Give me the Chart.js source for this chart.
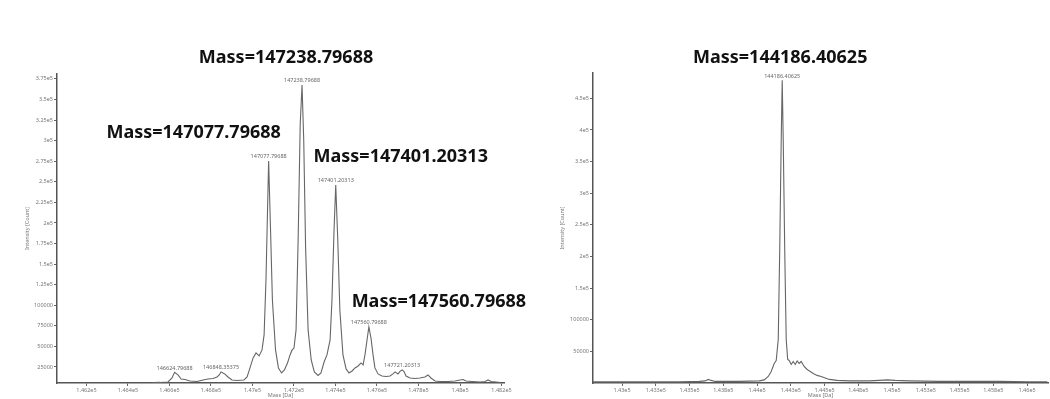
<!DOCTYPE html>
<html>
<head>
<meta charset="utf-8">
<script src="https://cdn.jsdelivr.net/npm/chart.js@4/dist/chart.umd.min.js"></script>
<style>
  html, body { margin: 0; padding: 0; background: #fff; }
  body { width: 1050px; height: 399px; position: relative; overflow: hidden; }
  .panel { position: absolute; top: 0; height: 399px; }
  #leftPanel { left: 0; width: 545px; }
  #rightPanel { left: 545px; width: 505px; }
</style>
</head>
<body>
<div class="panel" id="leftPanel"><canvas id="leftChart"></canvas></div>
<div class="panel" id="rightPanel"><canvas id="rightChart"></canvas></div>
<script>
// ---- Deconvoluted spectrum, sample A (mass in Da, intensity in counts) ----
const leftMass = [
  146520, 146554, 146593, 146612, 146624.79688, 146641, 146656, 146675, 146699, 146733,
  146762, 146786, 146810, 146829, 146840, 146848.35375, 146866, 146882, 146901, 146925,
  146959, 146974, 146988, 147003, 147017, 147032, 147046, 147056, 147065, 147077.79688,
  147087, 147096, 147111, 147125, 147140, 147154, 147169, 147181, 147191, 147200,
  147210, 147220, 147230, 147238.79688, 147247, 147256, 147268, 147283, 147298, 147316,
  147330, 147345, 147359, 147374, 147383, 147393, 147401.20313, 147411, 147421, 147436,
  147451, 147465, 147480, 147494, 147509, 147523, 147533, 147542, 147552, 147560.79688,
  147571, 147581, 147590, 147605, 147624, 147644, 147663, 147677, 147687, 147701,
  147712, 147721.20313, 147730, 147740, 147759, 147783, 147807, 147831, 147846, 147860,
  147880, 147904, 147942, 147976, 148000, 148015, 148029, 148058, 148097, 148121,
  148135, 148150, 148174, 148193
];
const leftIntensity = [
  6000, 6200, 6800, 11600, 18500, 15300, 10400, 9800, 8000, 7400,
  9200, 10400, 11000, 12800, 15300, 19000, 16500, 12800, 9200, 8600,
  9200, 12800, 23800, 36000, 42000, 38400, 45700, 63900, 130700, 275300,
  191500, 106400, 45700, 23800, 17700, 21400, 30000, 39600, 45700, 48000,
  70000, 180000, 320000, 367600, 300000, 170000, 70000, 33500, 18900, 14700,
  17700, 31000, 39600, 57800, 106400, 191500, 246100, 179300, 94200, 39600,
  22600, 17700, 20100, 23800, 26200, 29900, 27400, 39600, 57800, 73600,
  60200, 39600, 23800, 16500, 14000, 13400, 14000, 16500, 19000, 16500,
  20000, 21400, 19500, 14000, 11600, 11000, 11600, 12800, 15300, 11600,
  8000, 7400, 7400, 8000, 9200, 9800, 8000, 7400, 6800, 7400,
  9200, 7400, 6800, 6200
];
const leftPeaks = [146624.79688, 146848.35375, 147077.79688, 147238.79688, 147401.20313, 147560.79688, 147721.20313];
const leftXTicks = [146200, 146400, 146600, 146800, 147000, 147200, 147400, 147600, 147800, 148000, 148200];
const leftXTickLabels = ['1.462e5', '1.464e5', '1.466e5', '1.468e5', '1.47e5', '1.472e5', '1.474e5', '1.476e5', '1.478e5', '1.48e5', '1.482e5'];
const leftYTicks = [25000, 50000, 75000, 100000, 125000, 150000, 175000, 200000, 225000, 250000, 275000, 300000, 325000, 350000, 375000];
const leftYTickLabels = ['25000', '50000', '75000', '100000', '1.25e5', '1.5e5', '1.75e5', '2e5', '2.25e5', '2.5e5', '2.75e5', '3e5', '3.25e5', '3.5e5', '3.75e5'];

// ---- Deconvoluted spectrum, sample B ----
const rightMass = [
  142785, 142979, 143423, 143572, 143616, 143638, 143660, 143690, 143868, 144016,
  144053, 144083, 144105, 144127, 144142, 144157, 144168, 144179, 144186.40625, 144194,
  144205, 144216, 144227, 144238, 144253, 144268, 144283, 144297, 144312, 144327,
  144349, 144371, 144394, 144416, 144445, 144475, 144505, 144535, 144594, 144683,
  144831, 144905, 144964, 145023, 145127, 145349, 145571, 145794, 146016, 146150
];
const rightIntensity = [
  1700, 1700, 1700, 2500, 3300, 5700, 4100, 2500, 2500, 3300,
  4900, 10400, 18300, 30900, 35600, 68700, 210500, 383800, 478500, 383800,
  210500, 68700, 37200, 35600, 29300, 34000, 29300, 34800, 30900, 34000,
  26100, 21400, 18300, 15100, 12000, 10400, 8000, 5700, 4100, 3300,
  3300, 4100, 4900, 4100, 3300, 2500, 2500, 2500, 2000, 2000
];
const rightPeaks = [144186.40625];
const rightXTicks = [143000, 143250, 143500, 143750, 144000, 144250, 144500, 144750, 145000, 145250, 145500, 145750, 146000];
const rightXTickLabels = ['1.43e5', '1.433e5', '1.435e5', '1.438e5', '1.44e5', '1.443e5', '1.445e5', '1.448e5', '1.45e5', '1.453e5', '1.455e5', '1.458e5', '1.46e5'];
const rightYTicks = [50000, 100000, 150000, 200000, 250000, 300000, 350000, 400000, 450000];
const rightYTickLabels = ['50000', '100000', '1.5e5', '2e5', '2.5e5', '3e5', '3.5e5', '4e5', '4.5e5'];

// Small peak labels just above each apex, plus the large "Mass=" callouts.
const peakLabelPlugin = {
  id: 'peakLabels',
  afterDatasetsDraw(chart, args, opts) {
    const { ctx, scales: { x, y } } = chart;
    const ds = chart.data.datasets[0].data;
    const apex = (m) => ds.find(p => p.x === m);
    ctx.save();
    ctx.textAlign = 'center';
    ctx.textBaseline = 'bottom';
    ctx.fillStyle = '#666';
    ctx.font = '5.5px "Noto Sans", sans-serif';
    opts.peaks.forEach(m => {
      const p = apex(m);
      ctx.fillText(String(m), x.getPixelForValue(p.x), y.getPixelForValue(p.y) - 1.5);
    });
    ctx.fillStyle = '#111';
    ctx.textBaseline = 'middle';
    ctx.font = 'bold 18px "Noto Sans", sans-serif';
    opts.callouts.forEach(c => {
      const p = apex(c.mass);
      ctx.fillText('Mass=' + c.mass, x.getPixelForValue(p.x) + c.dx, y.getPixelForValue(p.y) + c.dy);
    });
    ctx.restore();
  }
};

function buildChart(id, mass, intensity, xRange, yRange, xTicks, xLabels, yTicks, yLabels, axisW, pad, titlePad, labelOpts) {
  const points = mass.map((m, i) => ({ x: m, y: intensity[i] }));
  const tickFont = { family: '"Noto Sans", sans-serif', size: 5.5 };
  return new Chart(document.getElementById(id), {
    type: 'line',
    data: { datasets: [{ data: points, borderColor: '#666', borderWidth: 1.1, pointRadius: 0, tension: 0, fill: false }] },
    options: {
      responsive: true, maintainAspectRatio: false, animation: false, devicePixelRatio: 1,
      layout: { padding: pad },
      plugins: { legend: { display: false }, tooltip: { enabled: false }, peakLabels: labelOpts },
      scales: {
        x: {
          type: 'linear', min: xRange[0], max: xRange[1],
          afterBuildTicks: (s) => { s.ticks = xTicks.map(v => ({ value: v })); },
          afterFit: (s) => { s.height = 16; },
          ticks: { autoSkip: false, maxRotation: 0, padding: 1, color: '#777', font: tickFont,
                   callback: (v) => xLabels[xTicks.indexOf(v)] },
          grid: { display: true, drawOnChartArea: false, tickLength: 3, tickColor: '#666' },
          border: { display: true, color: '#555', width: 1.5 },
          title: { display: true, text: 'Mass [Da]', color: '#777', font: tickFont, padding: { top: 0, bottom: 0 } }
        },
        y: {
          type: 'linear', min: yRange[0], max: yRange[1],
          afterBuildTicks: (s) => { s.ticks = yTicks.map(v => ({ value: v })); },
          afterFit: (s) => { s.width = axisW; },
          ticks: { autoSkip: false, padding: 1, color: '#777', font: tickFont,
                   callback: (v) => yLabels[yTicks.indexOf(v)] },
          grid: { display: true, drawOnChartArea: false, tickLength: 3, tickColor: '#666' },
          border: { display: true, color: '#555', width: 1.5 },
          title: { display: true, text: 'Intensity [Count]', color: '#777', font: tickFont, padding: { top: titlePad, bottom: 0 } }
        }
      }
    },
    plugins: [peakLabelPlugin]
  });
}

buildChart('leftChart', leftMass, leftIntensity, [146058, 148212], [5500, 381000],
  leftXTicks, leftXTickLabels, leftYTicks, leftYTickLabels,
  57, { left: 0, right: 41, top: 74, bottom: 0 }, 24,
  { peaks: leftPeaks,
    callouts: [
      { mass: 147238.79688, dx: -16, dy: -27 },
      { mass: 147077.79688, dx: -75, dy: -28 },
      { mass: 147401.20313, dx: 65, dy: -28 },
      { mass: 147560.79688, dx: 70, dy: -25 }
    ] });

buildChart('rightChart', rightMass, rightIntensity, [142785, 146155], [0, 490000],
  rightXTicks, rightXTickLabels, rightYTicks, rightYTickLabels,
  48, { left: 0, right: 2, top: 73, bottom: 0 }, 14,
  { peaks: rightPeaks,
    callouts: [ { mass: 144186.40625, dx: -2, dy: -22 } ] });
</script>
</body>
</html>
